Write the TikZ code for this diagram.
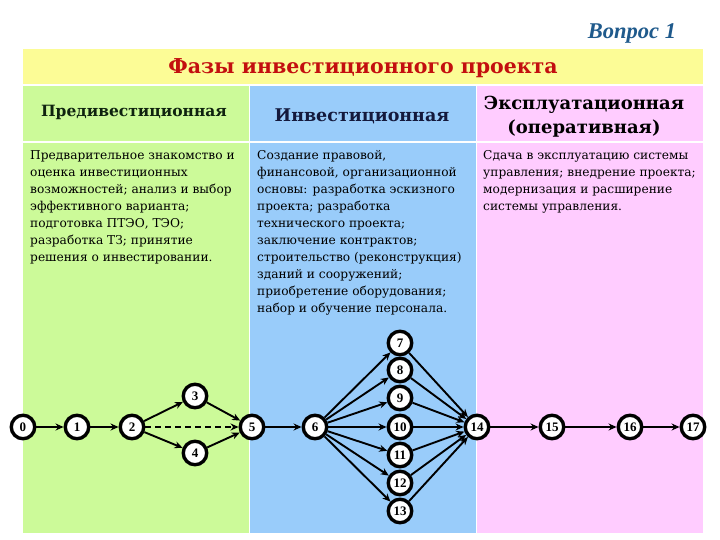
\documentclass[tikz,border=0pt]{standalone}
\usepackage{fontspec}
\setmainfont{Liberation Serif}
\newfontfamily\dvs{DejaVu Serif}
\usetikzlibrary{arrows.meta}
\definecolor{ylw}{RGB}{252,252,150}
\definecolor{grn}{RGB}{204,250,153}
\definecolor{blu}{RGB}{153,204,250}
\definecolor{pnk}{RGB}{255,204,255}
\definecolor{ttl}{RGB}{195,15,15}
\definecolor{vop}{RGB}{31,90,140}
\definecolor{hdr}{RGB}{15,35,15}
\definecolor{hdrb}{RGB}{20,25,60}
\begin{document}
\begin{tikzpicture}[x=1pt,y=-1pt,
  ev/.style={circle,draw=black,line width=3.4pt,fill=white,minimum size=23.5pt,inner sep=0pt,font=\fontsize{13}{13}\selectfont\bfseries},
  arr/.style={-{Stealth[length=8pt,width=7pt]},line width=1.9pt,draw=black},
  body/.style={anchor=north west,align=left,inner sep=0pt,font=\dvs\fontsize{12.2}{17}\selectfont},
  head/.style={align=center,inner sep=0pt}]
\useasboundingbox (0,0) rectangle (720,540);
\fill[white] (0,0) rectangle (720,540);
\fill[ylw] (23,49) rectangle (703,84);
\fill[grn] (23,86) rectangle (249,533);
\fill[blu] (250,86) rectangle (476,533);
\fill[pnk] (477,86) rectangle (703,533);
\draw[white,line width=1.2pt] (23,142) -- (703,142);

\node[font=\fontsize{22.5}{22.5}\selectfont\bfseries\itshape,text=vop] (vopros) at (632,33) {Вопрос 1};
\node[font=\dvs\fontsize{20.5}{21}\selectfont\bfseries,text=ttl] (title) at (363,68) {Фазы инвестиционного проекта};

\node[head,text=hdr,font=\dvs\fontsize{15.5}{19}\selectfont\bfseries] (h1) at (134,112) {Предивестиционная};
\node[head,text=hdrb,font=\dvs\fontsize{17.5}{19}\selectfont\bfseries] (h2) at (362,116) {Инвестиционная};
\node[head,text=black,font=\dvs\fontsize{18}{24}\selectfont\bfseries] (h3) at (584,117) {Эксплуатационная\\(оперативная)};

\node[body] (t1) at (30,150) {Предварительное знакомство и\\оценка инвестиционных\\возможностей; анализ и выбор\\эффективного варианта;\\подготовка ПТЭО, ТЭО;\\разработка ТЗ; принятие\\решения о инвестировании.};
\node[body] (t2) at (257,150) {Создание правовой,\\финансовой, организационной\\основы: разработка эскизного\\проекта; разработка\\технического проекта;\\заключение контрактов;\\строительство (реконструкция)\\зданий и сооружений;\\приобретение оборудования;\\набор и обучение персонала.};
\node[body] (t3) at (483,150) {Сдача в эксплуатацию системы\\управления; внедрение проекта;\\модернизация и расширение\\системы управления.};

\node[ev] (n0) at (23,427) {0};
\node[ev] (n1) at (77,427) {1};
\node[ev] (n2) at (132,427) {2};
\node[ev] (n3) at (195,396) {3};
\node[ev] (n4) at (195,453) {4};
\node[ev] (n5) at (252,427) {5};
\node[ev] (n6) at (315,427) {6};
\node[ev] (n7) at (400,343) {7};
\node[ev] (n8) at (400,370) {8};
\node[ev] (n9) at (400,398) {9};
\node[ev] (n10) at (400,427) {10};
\node[ev] (n11) at (400,455) {11};
\node[ev] (n12) at (400,483) {12};
\node[ev] (n13) at (400,511) {13};
\node[ev] (n14) at (477,427) {14};
\node[ev] (n15) at (552,427) {15};
\node[ev] (n16) at (630,427) {16};
\node[ev] (n17) at (693,427) {17};

\draw[arr] (n0) -- (n1);
\draw[arr] (n1) -- (n2);
\draw[arr] (n2) -- (n3);
\draw[arr] (n2) -- (n4);
\draw[arr,dash pattern=on 6pt off 4pt] (n2) -- (n5);
\draw[arr] (n3) -- (n5);
\draw[arr] (n4) -- (n5);
\draw[arr] (n5) -- (n6);
\foreach \k in {7,...,13}{
  \draw[arr] (n6) -- (n\k);
  \draw[arr] (n\k) -- (n14);
}
\draw[arr] (n14) -- (n15);
\draw[arr] (n15) -- (n16);
\draw[arr] (n16) -- (n17);
\end{tikzpicture}
\end{document}
